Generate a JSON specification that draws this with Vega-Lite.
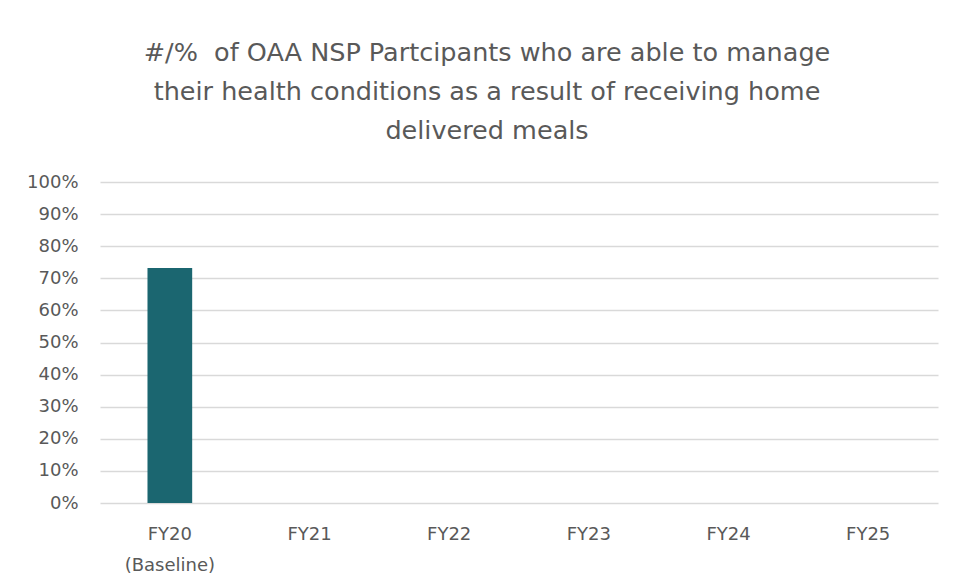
{
  "$schema": "https://vega.github.io/schema/vega-lite/v6.json",
  "width": 838,
  "height": 321,
  "autosize": {"type": "none"},
  "padding": {"left": 100, "top": 182, "right": 18, "bottom": 85},
  "background": "white",
  "title": {
    "text": ["#/%\u00a0 of OAA NSP Partcipants who are able to manage", "their health conditions as a result of receiving home", "delivered meals"],
    "font": "DejaVu Sans",
    "fontSize": 25.5,
    "fontWeight": "normal",
    "color": "#595959",
    "lineHeight": 39,
    "anchor": "middle",
    "dx": -32,
    "offset": 29
  },
  "data": {
    "values": [
      {"year": "FY20 (Baseline)", "pct": 0.732},
      {"year": "FY21", "pct": null},
      {"year": "FY22", "pct": null},
      {"year": "FY23", "pct": null},
      {"year": "FY24", "pct": null},
      {"year": "FY25", "pct": null}
    ]
  },
  "mark": {"type": "bar", "color": "#1b6670"},
  "encoding": {
    "x": {
      "field": "year",
      "type": "nominal",
      "sort": null,
      "scale": {"domain": ["FY20 (Baseline)", "FY21", "FY22", "FY23", "FY24", "FY25"], "paddingInner": 0.68, "paddingOuter": 0.34},
      "axis": {
        "title": null,
        "labelAngle": 0,
        "domain": false,
        "ticks": false,
        "labelPadding": 22,
        "labelFont": "DejaVu Sans",
        "labelFontSize": 18,
        "labelColor": "#595959",
        "labelLineHeight": 31,
        "labelExpr": "datum.label == 'FY20 (Baseline)' ? ['FY20', '(Baseline)'] : datum.label"
      }
    },
    "y": {
      "field": "pct",
      "type": "quantitative",
      "scale": {"domain": [0, 1]},
      "axis": {
        "title": null,
        "format": ".0%",
        "values": [0, 0.1, 0.2, 0.3, 0.4, 0.5, 0.6, 0.7, 0.8, 0.9, 1],
        "domain": false,
        "ticks": false,
        "labelPadding": 22,
        "labelFont": "DejaVu Sans",
        "labelFontSize": 18,
        "labelColor": "#595959",
        "gridColor": "#d9d9d9",
        "gridWidth": 1.5
      }
    }
  },
  "config": {"view": {"stroke": null}}
}
